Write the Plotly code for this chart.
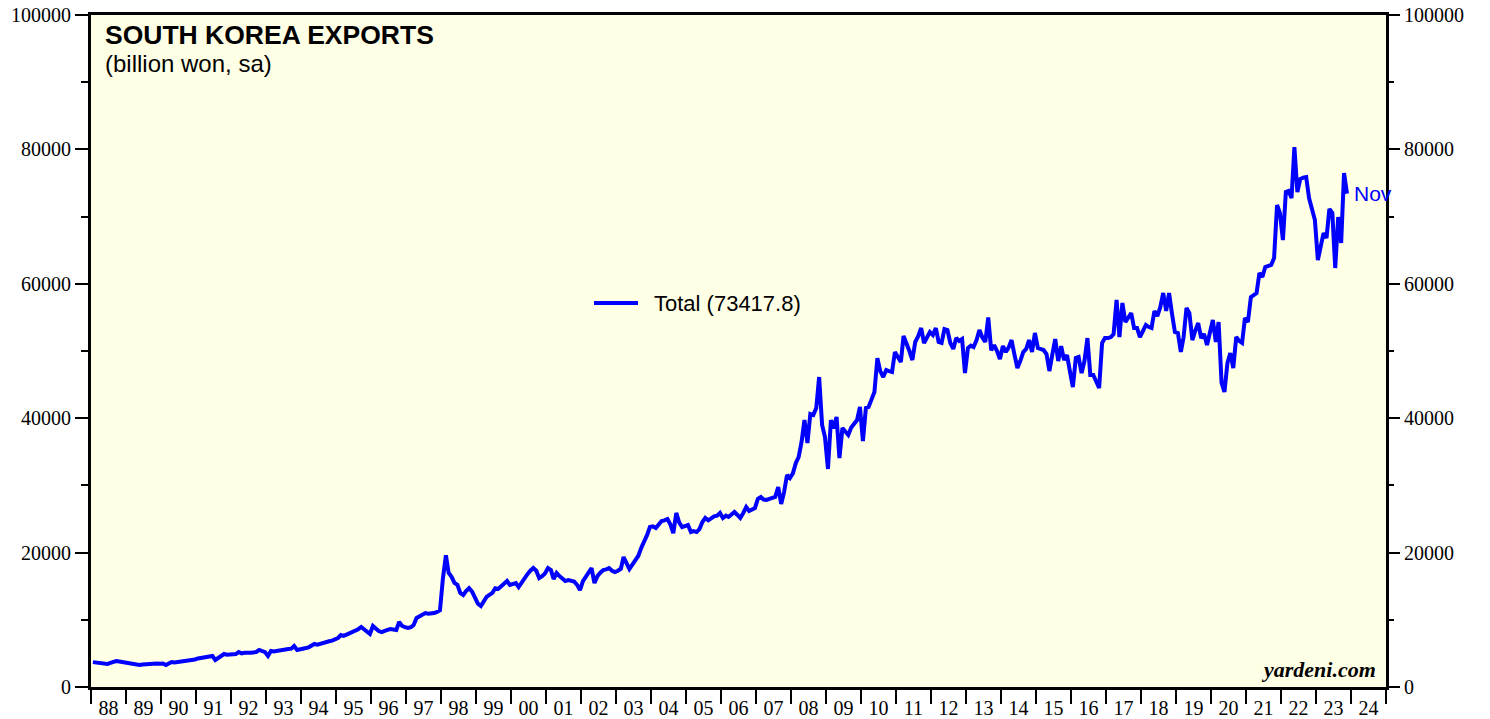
import plotly.graph_objects as go
import pandas as pd

# Monthly South Korea exports (billion won, sa), Jan 1988 - Nov 2023
exp_1988 = [3700, 3650, 3600, 3550, 3500, 3420, 3600, 3750, 3870, 3800, 3720, 3650]
exp_1989 = [3570, 3600, 3500, 3400, 3270, 3350, 3400, 3450, 3500, 3570, 3500, 3450]
exp_1990 = [3500, 3270, 3500, 3720, 3650, 3700, 3750, 3800, 3900, 4020, 3950, 4100]
exp_1991 = [4250, 4310, 4350, 4400, 4500, 4610, 4020, 4300, 4600, 4910, 4800, 4850]
exp_1992 = [4850, 4910, 5210, 5000, 5100, 5050, 5100, 5150, 5210, 5510, 5300, 5200]
exp_1993 = [4610, 5360, 5300, 5400, 5450, 5500, 5550, 5650, 5700, 6100, 5510, 5650]
exp_1994 = [5700, 5800, 5900, 6100, 6400, 6300, 6450, 6500, 6700, 6800, 6900, 7100]
exp_1995 = [7290, 7740, 7600, 7800, 8000, 8100, 8330, 8600, 8930, 8600, 8400, 7890]
exp_1996 = [9080, 8700, 8330, 8180, 8400, 8500, 8630, 8500, 8480, 9670, 9080, 8900]
exp_1997 = [8780, 8900, 9230, 10270, 10500, 10700, 11000, 10900, 10900, 11000, 11160, 11400]
exp_1998 = [16200, 19600, 17000, 16400, 15500, 15200, 14000, 13700, 14300, 14700, 14200, 13400]
exp_1999 = [12400, 12050, 12650, 13400, 13700, 14000, 14700, 14600, 15000, 15400, 15770, 15200]
exp_2000 = [15300, 15470, 14880, 15600, 16220, 16800, 17300, 17700, 17300, 16220, 16500, 16900]
exp_2001 = [17700, 17400, 16070, 16960, 16500, 16200, 15770, 15900, 15770, 15700, 15200, 14430]
exp_2002 = [15770, 16500, 17100, 17700, 15470, 16500, 17000, 17410, 17500, 17700, 17300, 17110]
exp_2003 = [17300, 17600, 19340, 18500, 17560, 18200, 18900, 19500, 20680, 21500, 22600, 23800]
exp_2004 = [23900, 23660, 24200, 24700, 24800, 25000, 24200, 22900, 25900, 24500, 23800, 23900]
exp_2005 = [24100, 23060, 23200, 23060, 23500, 24550, 25150, 24800, 25200, 25400, 25500, 25900]
exp_2006 = [25150, 25500, 25300, 25700, 26040, 25600, 25150, 25900, 26780, 26200, 26500, 26640]
exp_2007 = [28000, 28270, 27900, 27830, 28000, 28120, 28300, 29760, 27230, 29000, 31550, 31100]
exp_2008 = [31800, 33330, 34220, 36500, 39730, 36300, 40620, 40470, 41500, 46130, 38990, 37200]
exp_2009 = [32440, 39730, 38500, 40180, 34070, 38540, 38000, 37500, 38600, 39280, 39730, 41660]
exp_2010 = [36600, 41510, 41660, 42800, 43900, 48950, 47000, 46130, 47170, 47000, 46870, 49850]
exp_2011 = [49000, 48360, 52230, 51190, 50000, 48660, 51340, 52200, 53420, 51190, 52000, 52820]
exp_2012 = [52380, 53420, 51340, 51190, 53270, 53120, 51190, 50300, 51930, 51500, 51780, 46720]
exp_2013 = [50440, 50800, 50590, 51630, 53120, 52000, 51340, 55000, 50100, 50890, 50000, 48800]
exp_2014 = [50740, 49850, 50500, 51630, 49500, 47470, 48500, 49850, 50300, 51630, 49850, 52680]
exp_2015 = [50440, 50300, 50150, 49550, 47020, 49500, 51780, 48510, 50740, 48660, 49400, 47000]
exp_2016 = [44640, 48950, 49100, 46720, 48500, 51930, 46430, 46430, 45500, 44490, 51190, 51930]
exp_2017 = [51930, 52080, 52500, 57590, 52080, 57140, 54310, 55000, 55650, 53420, 53420, 52080]
exp_2018 = [53000, 53870, 53600, 53420, 55950, 55200, 56500, 58630, 55950, 58630, 55500, 52820]
exp_2019 = [52680, 49850, 52000, 56400, 55650, 51630, 53000, 54160, 51930, 52530, 50890, 53000]
exp_2020 = [54610, 51340, 54310, 45240, 43900, 48210, 49700, 47470, 52080, 51500, 51190, 54900]
exp_2021 = [54310, 58030, 58300, 58630, 61600, 61010, 62500, 62600, 62800, 63840, 71720, 70530]
exp_2022 = [66510, 73660, 73800, 72760, 80350, 73660, 75590, 75800, 75890, 72760, 71000, 69490]
exp_2023 = [63540, 65500, 67550, 66810, 71130, 70530, 62350, 69940, 66070, 76480, 73417.8]

yearly = [exp_1988, exp_1989, exp_1990, exp_1991, exp_1992, exp_1993, exp_1994, exp_1995,
          exp_1996, exp_1997, exp_1998, exp_1999, exp_2000, exp_2001, exp_2002, exp_2003,
          exp_2004, exp_2005, exp_2006, exp_2007, exp_2008, exp_2009, exp_2010, exp_2011,
          exp_2012, exp_2013, exp_2014, exp_2015, exp_2016, exp_2017, exp_2018, exp_2019,
          exp_2020, exp_2021, exp_2022, exp_2023]
values = [v for yr in yearly for v in yr]
dates = pd.date_range("1988-01-01", periods=len(values), freq="MS") + pd.Timedelta(days=20)

series_name = "Total (73417.8)"
last_label = "Nov"
title = "<b>SOUTH KOREA EXPORTS</b>"
subtitle = "(billion won, sa)"
source = "<b><i>yardeni.com</i></b>"

BLUE = "#0000FF"
SERIF = "Liberation Serif, Times New Roman, serif"
SANS = "Liberation Sans, Arial, sans-serif"

fig = go.Figure()
fig.add_trace(go.Scatter(x=dates, y=values, mode="lines", name=series_name,
                         showlegend=False, line=dict(color=BLUE, width=4)))
# same series on the right axis (transparent) so the right-hand axis is drawn
fig.add_trace(go.Scatter(x=dates, y=values, mode="lines", yaxis="y2", showlegend=False,
                         hoverinfo="skip", line=dict(color="rgba(0,0,0,0)", width=0)))

yaxis_common = dict(range=[0, 100000], dtick=20000, tick0=0, ticks="outside", ticklen=13,
                    tickwidth=1.5, tickcolor="black", showgrid=False, zeroline=False,
                    tickformat="d", exponentformat="none", automargin=False,
                    ticklabeloverflow="allow",
                    tickfont=dict(family=SERIF, size=20, color="black"),
                    minor=dict(dtick=10000, tick0=0, ticks="outside", ticklen=7,
                               tickwidth=1.5, tickcolor="black", showgrid=False),
                    fixedrange=True)

fig.update_layout(
    width=1490, height=719,
    margin=dict(l=91, r=104, t=15, b=32),
    paper_bgcolor="white",
    plot_bgcolor="#FFFFE6",
    xaxis=dict(type="date", range=["1988-01-01", "2025-01-01"], dtick="M12",
               tick0="1988-01-01", tickformat="%y", ticklabelmode="period",
               ticks="outside", ticklen=14, tickwidth=2, tickcolor="black",
               showline=True, linewidth=3, linecolor="black", mirror=True,
               showgrid=False, zeroline=False, automargin=False,
               ticklabelstandoff=-13, ticklabeloverflow="allow",
               tickfont=dict(family=SERIF, size=20, color="black")),
    yaxis=dict(side="left", showline=True, linewidth=3, linecolor="black", mirror=True,
               **yaxis_common),
    yaxis2=dict(side="right", overlaying="y", showline=False, **yaxis_common),
    showlegend=False,
)

# legend (sample line + label)
fig.add_shape(type="line", xref="paper", yref="paper", x0=0.3884, x1=0.4224,
              y0=0.5714, y1=0.5714, line=dict(color=BLUE, width=4))
fig.add_annotation(xref="paper", yref="paper", x=0.433, y=0.5714, xanchor="left",
                   yanchor="middle", text=series_name, showarrow=False,
                   font=dict(family=SANS, size=22, color="black"))

fig.add_annotation(xref="paper", yref="paper", x=0.009, y=0.995, xanchor="left",
                   yanchor="top", text=title, showarrow=False,
                   font=dict(family=SANS, size=26.5, color="black"))
fig.add_annotation(xref="paper", yref="paper", x=0.009, y=0.951, xanchor="left",
                   yanchor="top", text=subtitle, showarrow=False,
                   font=dict(family=SANS, size=24, color="black"))
fig.add_annotation(x=dates[-1], y=values[-1], xanchor="left", yanchor="middle",
                   text=last_label, showarrow=False, xshift=5,
                   font=dict(family=SANS, size=21, color=BLUE))
fig.add_annotation(xref="paper", yref="paper", x=0.9935, y=0.005, xanchor="right",
                   yanchor="bottom", text=source, showarrow=False,
                   font=dict(family=SERIF, size=22, color="black"))

fig.write_html("out.html", config={"displayModeBar": False},
               post_script="document.body.style.margin='0px';")
